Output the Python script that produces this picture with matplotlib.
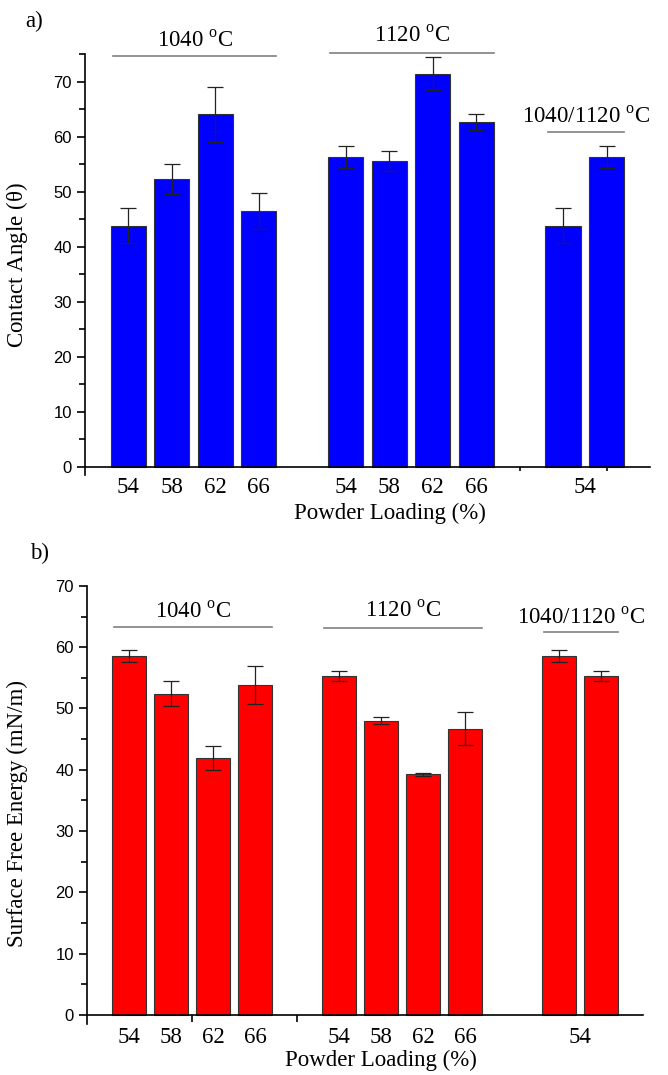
import matplotlib
matplotlib.use("Agg")
import matplotlib.pyplot as plt

plt.rcParams['font.family'] = ['Liberation Serif', 'DejaVu Serif']
plt.rcParams['mathtext.fontset'] = 'custom'
plt.rcParams['mathtext.rm'] = 'Liberation Serif'

# data
loading_labels = ['54', '58', '62', '66', '54', '58', '62', '66', '54']
group_names = [r'1040 $^{\mathrm{o}}$C', r'1120 $^{\mathrm{o}}$C', r'1040/1120 $^{\mathrm{o}}$C']

# a) contact angle
angle_pos = [0, 1, 2, 3, 5, 6, 7, 8, 10, 11]
angle_val = [43.8, 52.3, 64.1, 46.5, 56.3, 55.6, 71.4, 62.7, 43.8, 56.3]
angle_err = [3.2, 2.7, 5.0, 3.2, 2.0, 1.8, 3.0, 1.4, 3.2, 2.0]
angle_label_pos = [0, 1, 2, 3, 5, 6, 7, 8, 10.5]
angle_tick_pos = [5, 7, 9, 11]
angle_groups = [(0, 4), (4, 8), (8, 10)]
angle_line_y = [74.7, 75.2, 60.9]
angle_text_y = [76.4, 77.2, 62.5]

# b) surface free energy
energy_pos = [0, 1, 2, 3, 5, 6, 7, 8, 10.25, 11.25]
energy_val = [58.5, 52.4, 41.9, 53.9, 55.3, 48.0, 39.3, 46.7, 58.5, 55.3]
energy_err = [1.0, 2.0, 2.0, 3.1, 0.8, 0.6, 0.25, 2.7, 1.0, 0.8]
energy_label_pos = [0, 1, 2, 3, 5, 6, 7, 8, 10.75]
energy_tick_pos = [1.5, 4.0]
energy_groups = [(0, 4), (4, 8), (8, 10)]
energy_line_y = [63.3, 63.2, 62.5]
energy_text_y = [64.8, 64.9, 63.9]

bar_w = 0.81
serif_size = 16.5

fig = plt.figure(figsize=(6.68, 10.75), dpi=100)
ax1 = fig.add_axes([0.1272, 0.558, 0.8458, 0.3916])
ax2 = fig.add_axes([0.1302, 0.0473, 0.8323, 0.4077])


def draw_panel(ax, pos, val, err, color, label_pos, tick_pos, groups, line_y, text_y,
               ylim, xlim, tick_len, pad):
    ax.bar(pos, val, width=bar_w, color=color, edgecolor='#333333', linewidth=0.8, zorder=2)
    ax.errorbar(pos, val, yerr=err, fmt='none', ecolor='#222222', elinewidth=0.9,
                capsize=6, capthick=0.9, zorder=3)
    for (a, b), ly, ty, name in zip(groups, line_y, text_y, group_names):
        x0 = pos[a] - bar_w / 2 + 0.05
        x1 = pos[b - 1] + bar_w / 2
        ax.plot([x0, x1], [ly, ly], color='#808080', lw=1.2, clip_on=False)
        ax.text((x0 + x1) / 2, ty, name, ha='center', va='baseline', fontsize=serif_size)
    ax.set_xlim(*xlim)
    ax.set_ylim(*ylim)
    for s in ['top', 'right']:
        ax.spines[s].set_visible(False)
    ax.spines['bottom'].set_position(('data', 0))
    ax.spines['bottom'].set_linewidth(1.2)
    ax.spines['left'].set_linewidth(1.2)
    ax.set_xticks(label_pos)
    ax.set_xticklabels(loading_labels, fontsize=serif_size)
    ax.tick_params(axis='x', which='major', length=0, pad=pad)
    ax.set_xticks(tick_pos, minor=True)
    ax.tick_params(axis='x', which='minor', length=tick_len, width=1.2, direction='out')
    ax.set_yticks(range(0, int(ylim[1]) + 1, 10))
    ax.set_yticks(range(5, int(ylim[1]) + 1, 10), minor=True)
    ax.tick_params(axis='y', which='major', length=6, width=1.2, direction='out',
                   labelsize=12, labelfontfamily='Liberation Sans')
    ax.tick_params(axis='y', which='minor', length=4, width=1.2, direction='out')


draw_panel(ax1, angle_pos, angle_val, angle_err, '#0000ff', angle_label_pos, angle_tick_pos,
           angle_groups, angle_line_y, angle_text_y, (-1.5, 75), (-1, 12), 3, 7)
draw_panel(ax2, energy_pos, energy_val, energy_err, '#ff0000', energy_label_pos, energy_tick_pos,
           energy_groups, energy_line_y, energy_text_y, (-1.5, 70), (-1, 12.24), 5, 9)

ax1.set_ylabel(r'Contact Angle ($\mathrm{\theta}$)', fontsize=serif_size)
ax1.yaxis.set_label_coords(-0.097, 0.5)
ax2.set_ylabel('Surface Free Energy (mN/m)', fontsize=serif_size)
ax2.yaxis.set_label_coords(-0.106, 0.48)

fig.text(390 / 668, 1 - 513 / 1075, 'Powder Loading (%)', ha='center', va='center', fontsize=serif_size)
fig.text(381 / 668, 1 - 1060 / 1075, 'Powder Loading (%)', ha='center', va='center', fontsize=serif_size)
fig.text(34 / 668, 1 - 21 / 1075, 'a)', ha='center', va='center', fontsize=serif_size)
fig.text(40 / 668, 1 - 553 / 1075, 'b)', ha='center', va='center', fontsize=serif_size)

fig.savefig('out.png', dpi=100)
